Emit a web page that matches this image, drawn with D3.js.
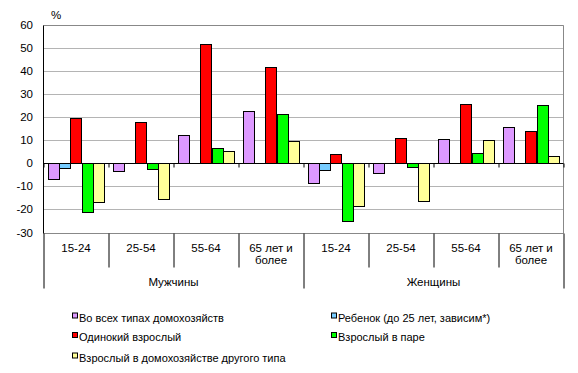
<!DOCTYPE html>
<html><head><meta charset="utf-8">
<script src="https://cdn.jsdelivr.net/npm/d3@7"></script>
<style>
html,body{margin:0;padding:0;background:#fff;}
svg text{font-family:"Liberation Sans",Arial,sans-serif;fill:#000;}
</style></head>
<body><svg id="c" width="578" height="373"></svg>
<script>
const categories = ["15-24","25-54","55-64","65 лет и|более","15-24","25-54","55-64","65 лет и|более"];
const groups = ["Мужчины","Женщины"];
const seriesNames = ["Во всех типах домохозяйств","Ребенок (до 25 лет, зависим*)","Одинокий взрослый","Взрослый в паре","Взрослый в домохозяйстве другого типа"];
const seriesColors = ["#DD99FF","#77CCFF","#FF0000","#00FF00","#FFFF99"];
const allHouseholds = [-6.9, -3.6, 12.1, 22.5, -8.7, -4.3, 10.4, 15.6];
const child = [-2.2, null, null, null, -3.0, null, null, null];
const singleAdult = [19.5, 17.7, 51.5, 41.5, 3.9, 10.8, 25.5, 13.8];
const coupleAdult = [-21.2, -2.6, 6.5, 21.2, -25.1, -1.7, 4.3, 25.1];
const otherAdult = [-16.9, -15.3, 5.2, 9.5, -18.7, -16.4, 10.0, 3.0];
const yTicks = [-30,-20,-10,0,10,20,30,40,50,60];

const series = [allHouseholds, child, singleAdult, coupleAdult, otherAdult];
const svg = d3.select("#c");
const L = 43.5, R = 563.5, T = 24.5, B = 232.5;
const y = d3.scaleLinear().domain([-30,60]).range([B,T]);
const x = d3.scaleBand().domain(d3.range(categories.length)).range([L,R]).padding(0);
const xs = d3.scaleBand().domain(d3.range(series.length)).range([0,x.bandwidth()]).paddingInner(0).paddingOuter(0.4545);
const py = v => Math.round(y(v)) + 0.5;

// gridlines
svg.append("g").selectAll("line").data(yTicks.filter(v=>v!==0 && v!==-30)).join("line")
  .attr("x1",L).attr("x2",R).attr("y1",d=>py(d)).attr("y2",d=>py(d))
  .attr("stroke", "#B4B4B4").attr("stroke-width",1);
// bottom line and right border
svg.append("line").attr("x1",L).attr("x2",R).attr("y1",py(-30)).attr("y2",py(-30)).attr("stroke","#888").attr("stroke-width",1);
svg.append("line").attr("x1",R).attr("x2",R).attr("y1",py(60)).attr("y2",py(-30)).attr("stroke","#888").attr("stroke-width",1);
svg.append("line").attr("x1",L).attr("x2",R).attr("y1",py(60)).attr("y2",py(60)).attr("stroke","#888").attr("stroke-width",1);

// bars
series.forEach((s,si)=>{
  svg.append("g").selectAll("rect").data(s.map((v,i)=>({v,i})).filter(d=>d.v!==null)).join("rect")
    .attr("x", d=>Math.round(x(d.i)+xs(si))+0.5)
    .attr("width", Math.round(xs.bandwidth()))
    .attr("y", d=>Math.round(y(Math.max(0,d.v)))+0.5)
    .attr("height", d=>Math.abs(Math.round(y(0))-Math.round(y(d.v))))
    .attr("fill", seriesColors[si]).attr("stroke","#000").attr("stroke-width",1);
});

// zero axis with ticks
const y0 = py(0);
svg.append("line").attr("x1",L).attr("x2",R).attr("y1",y0).attr("y2",y0).attr("stroke","#000");
svg.append("g").selectAll("line").data(d3.range(categories.length+1)).join("line")
  .attr("x1",d=>Math.round(L + d*x.bandwidth())+0.5-0.5).attr("x2",d=>Math.round(L + d*x.bandwidth())+0.5-0.5)
  .attr("y1",y0).attr("y2",y0+4).attr("stroke","#000");
// left axis
svg.append("line").attr("x1",L).attr("x2",L).attr("y1",py(60)).attr("y2",py(-30)).attr("stroke","#000");

// y tick labels
svg.append("g").selectAll("text").data(yTicks).join("text")
  .attr("x",33).attr("y",d=>y(d)+4).attr("text-anchor","end").attr("font-size","11.5px").text(d=>d);
svg.append("text").attr("x",51).attr("y",19).attr("font-size","11.5px").text("%");

// category dividers
const bx = i => Math.round(L + i*x.bandwidth()) + 0.5 - 0.5;
svg.append("g").selectAll("line").data(d3.range(categories.length+1)).join("line")
  .attr("x1",d=>bx(d)).attr("x2",d=>bx(d))
  .attr("y1",py(-30)).attr("y2",d=> (d%4===0) ? 288.5 : 267.5)
  .attr("stroke","#000");

// category labels
categories.forEach((c,i)=>{
  const lines = c.split("|");
  const t = svg.append("text").attr("x", x(i)+x.bandwidth()/2).attr("text-anchor","middle").attr("font-size","11.5px");
  lines.forEach((ln,k)=> t.append("tspan").attr("x", x(i)+x.bandwidth()/2).attr("y", 251.5 + k*12.5).text(ln));
});
groups.forEach((g,gi)=>{
  svg.append("text").attr("x", x(gi*4) + 2*x.bandwidth()).attr("y",286).attr("text-anchor","middle").attr("font-size","11.5px").text(g);
});

// legend
const legPos = [[72,321.5],[331,321.5],[72,341],[331,341],[72,361.5]];
seriesNames.forEach((n,i)=>{
  const [lx,ly] = legPos[i];
  svg.append("rect").attr("x",lx+0.5).attr("y",ly-8.5).attr("width",5).attr("height",5).attr("fill",seriesColors[i]).attr("stroke","#000").attr("stroke-width",1);
  svg.append("text").attr("x",lx+7).attr("y",ly).attr("font-size","11px").text(n);
});
</script></body></html>
